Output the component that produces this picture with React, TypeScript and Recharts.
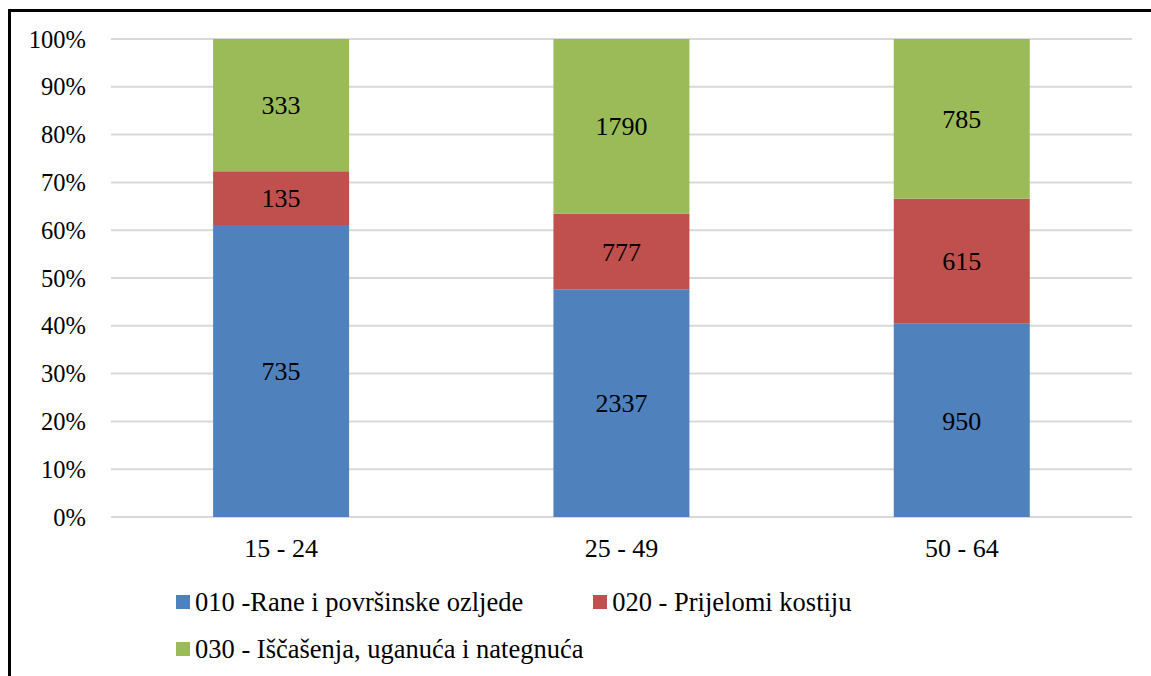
import React from "react";
import {
  BarChart,
  Bar,
  XAxis,
  YAxis,
  CartesianGrid,
  Legend,
  LabelList,
} from "recharts";

const ageGroups = ["15 - 24", "25 - 49", "50 - 64"];
const woundsValues = [735, 2337, 950];
const fracturesValues = [135, 777, 615];
const sprainsValues = [333, 1790, 785];
const yTicks = [0, 0.1, 0.2, 0.3, 0.4, 0.5, 0.6, 0.7, 0.8, 0.9, 1];

const seriesNames = [
  "010 -Rane i površinske ozljede",
  "020 - Prijelomi kostiju",
  "030 - Iščašenja, uganuća i nategnuća",
];

const data = ageGroups.map((g, i) => ({
  group: g,
  wounds: woundsValues[i],
  fractures: fracturesValues[i],
  sprains: sprainsValues[i],
}));

const font = "'Liberation Serif', 'Times New Roman', serif";

const renderLegend = (props: any) => {
  const { payload } = props;
  return (
    <div
      style={{
        display: "flex",
        flexWrap: "wrap",
        width: 780,
        marginLeft: 176,
        rowGap: 19,
        fontFamily: font,
        fontSize: 26.5,
        color: "#000",
      }}
    >
      {payload.map((p: any) => (
        <div
          key={p.value}
          style={{ display: "flex", alignItems: "center", marginRight: 70, height: 28 }}
        >
          <span
            style={{
              display: "inline-block",
              width: 14,
              height: 14,
              background: p.color,
              marginRight: 5,
            }}
          />
          <span style={{ whiteSpace: "nowrap" }}>{p.value}</span>
        </div>
      ))}
    </div>
  );
};

export default function App() {
  return (
    <div
      style={{
        position: "absolute",
        left: 0,
        top: 0,
        width: 1151,
        height: 676,
        overflow: "hidden",
        background: "#fff",
      }}
    >
      <div
        style={{
          position: "absolute",
          left: 8,
          top: 9,
          width: 2000,
          height: 2000,
          border: "3px solid #000",
        }}
      />
      <div style={{ position: "absolute", left: 0, top: 0 }}>
        <BarChart
          width={1151}
          height={676}
          data={data}
          stackOffset="expand"
          barCategoryGap="30%"
          margin={{ top: 39, right: 19, left: 0, bottom: 25 }}
        >
          <CartesianGrid
            horizontal
            vertical={false}
            stroke="#d9d9d9"
            strokeWidth={2}
          />
          <XAxis
            dataKey="group"
            axisLine={false}
            tickLine={false}
            tickMargin={16}
            height={59}
            tick={{ fill: "#000", fontSize: 26, fontFamily: font }}
          />
          <YAxis
            domain={[0, 1]}
            ticks={yTicks}
            width={111}
            axisLine={false}
            tickLine={false}
            tickMargin={19}
            interval={0}
            tickFormatter={(v: number) => `${Math.round(v * 100)}%`}
            tick={{ fill: "#000", fontSize: 24.5, fontFamily: font }}
          />
          <Legend
            verticalAlign="bottom"
            content={renderLegend}
            wrapperStyle={{ top: 588, left: 0, width: 1151 }}
          />
          <Bar
            dataKey="wounds"
            name={seriesNames[0]}
            stackId="a"
            fill="#4f81bd"
            isAnimationActive={false}
          >
            <LabelList
              dataKey="wounds"
              position="center"
              fill="#000"
              fontSize={26}
              fontFamily={font}
            />
          </Bar>
          <Bar
            dataKey="fractures"
            name={seriesNames[1]}
            stackId="a"
            fill="#c0504d"
            isAnimationActive={false}
          >
            <LabelList
              dataKey="fractures"
              position="center"
              fill="#000"
              fontSize={26}
              fontFamily={font}
            />
          </Bar>
          <Bar
            dataKey="sprains"
            name={seriesNames[2]}
            stackId="a"
            fill="#9bbb59"
            isAnimationActive={false}
          >
            <LabelList
              dataKey="sprains"
              position="center"
              fill="#000"
              fontSize={26}
              fontFamily={font}
            />
          </Bar>
        </BarChart>
      </div>
    </div>
  );
}
